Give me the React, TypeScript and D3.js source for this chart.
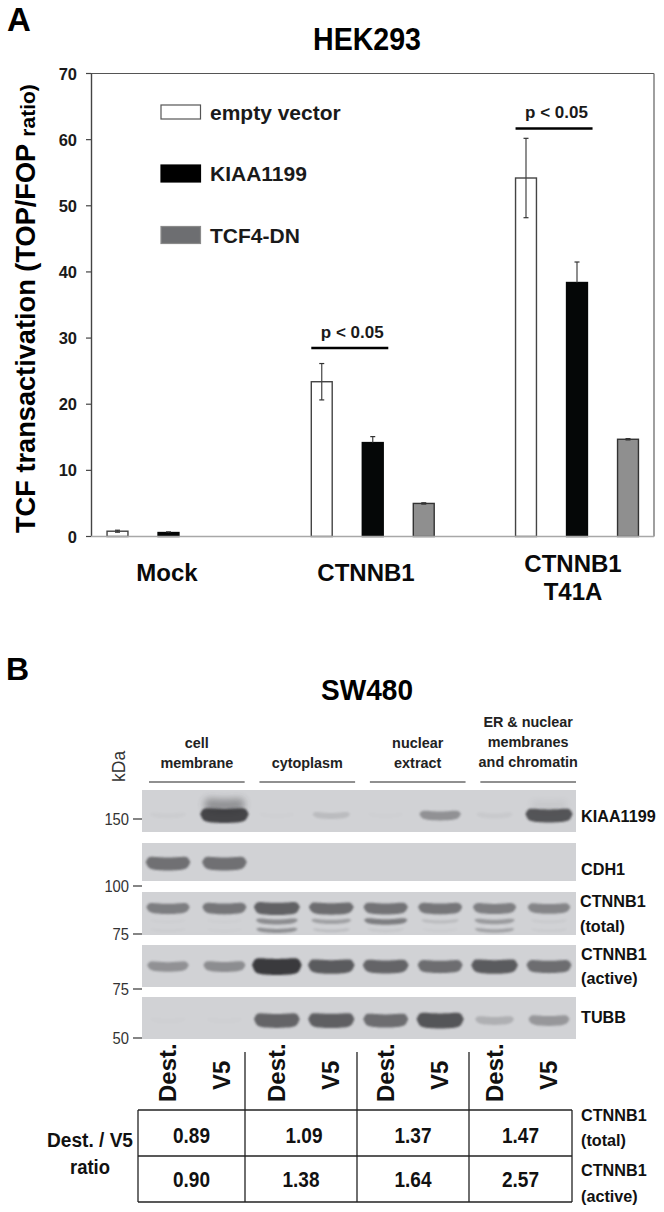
import React from 'react';
import * as d3 from 'd3';

// Panel A values
const groups = ['Mock', 'CTNNB1', 'CTNNB1 T41A'];
const seriesNames = ['empty vector', 'KIAA1199', 'TCF4-DN'];
const emptyVector = [0.8, 23.4, 54.2];
const kiaa1199 = [0.6, 14.2, 38.4];
const tcf4dn = [0, 5.0, 14.7];
const emptyVectorErr = [0.15, 2.75, 6.0];
const kiaa1199Err = [0.1, 0.9, 3.1];
const tcf4dnErr = [0, 0.1, 0.1];

// Panel B values
const fractions = ['cell membrane', 'cytoplasm', 'nuclear extract', 'ER & nuclear membranes and chromatin'];
const lanes = ['Dest.', 'V5', 'Dest.', 'V5', 'Dest.', 'V5', 'Dest.', 'V5'];
const ratioTotal = ['0.89', '1.09', '1.37', '1.47'];
const ratioActive = ['0.90', '1.38', '1.64', '2.57'];

// band darkness per lane, 0 = nothing, 1 = saturated
const kiaaBand = [0.03, 0.92, 0.01, 0.14, 0.01, 0.42, 0.05, 0.82];
const kiaaSmear = [0, 0.42, 0, 0, 0, 0, 0, 0.08];
const cdh1Band = [0.64, 0.64, 0, 0, 0, 0, 0, 0];
const totalUpper = [0.55, 0.6, 0.74, 0.66, 0.62, 0.6, 0.54, 0.5];
const totalMiddle = [0.02, 0.02, 0.45, 0.32, 0.55, 0.14, 0.36, 0.05];
const totalLower = [0.03, 0.02, 0.42, 0.13, 0.06, 0.03, 0.3, 0.04];
const activeBand = [0.42, 0.45, 1, 0.78, 0.72, 0.66, 0.78, 0.66];
const tubbBand = [0.01, 0.01, 0.72, 0.75, 0.66, 0.82, 0.22, 0.38];

const markers = [
  { label: '150', y: 819 },
  { label: '100', y: 886 },
  { label: '75', y: 934 },
  { label: '75', y: 989 },
  { label: '50', y: 1038 },
];

const FONT = '"Liberation Sans", Arial, sans-serif';
const ink = '#1a1a1a';

const yScale = d3.scaleLinear().domain([0, 70]).range([536.5, 73.5]);
const groupX = d3.scalePoint<string>().domain(groups).range([168.5, 577]);
const seriesX = d3.scaleBand<string>().domain(seriesNames).range([-76.5, 76.5]).paddingInner(0.59).paddingOuter(0.295);
const laneX = d3.scalePoint<number>().domain(d3.range(8)).range([168, 549]);
const fractionX = d3.scaleBand<string>().domain(fractions).range([149, 576]).paddingInner(0.134);
const opacity = d3.scaleLinear().domain([0, 1]).range([0, 0.95]);

const seriesValues = [emptyVector, kiaa1199, tcf4dn];
const seriesErrors = [emptyVectorErr, kiaa1199Err, tcf4dnErr];
const seriesFill = ['#ffffff', '#050707', '#8f8f8f'];
const seriesStroke = ['#444', '#050707', '#333'];
const legendFill = ['#ffffff', '#000000', '#6d6e71'];
const legendStroke = ['#555', '#000', '#8a8a8a'];

// crescent shaped band, thin at the ends and sagging a little in the middle
function bandPath(cx: number, cy: number, w: number, h: number, sag: number) {
  const ts = d3.range(-1, 1.001, 0.1);
  const half = (t: number) => (h / 2) * Math.sqrt(1 - Math.pow(Math.abs(t), 8));
  const drop = (t: number) => sag * (1 - t * t) - sag / 2;
  const gen = d3
    .area<number>()
    .x((t) => cx + (t * w) / 2)
    .y0((t) => cy - half(t) + drop(t))
    .y1((t) => cy + half(t) + drop(t))
    .curve(d3.curveBasis);
  return gen(ts) as string;
}

const blots = [
  {
    name: 'KIAA1199', top: 790, height: 42,
    rows: [
      { values: kiaaSmear, cy: 15, thick: 20, blur: 'b3' },
      { values: kiaaBand, cy: 25, thick: 13, blur: 'b1' },
    ],
  },
  { name: 'CDH1', top: 843, height: 38, rows: [{ values: cdh1Band, cy: 20, thick: 15, blur: 'b1' }] },
  {
    name: 'CTNNB1 total', top: 892, height: 43,
    rows: [
      { values: totalUpper, cy: 16, thick: 13, blur: 'b1' },
      { values: totalMiddle, cy: 29, thick: 7, blur: 'b1' },
      { values: totalLower, cy: 38, thick: 6, blur: 'b1' },
    ],
  },
  { name: 'CTNNB1 active', top: 945, height: 42, rows: [{ values: activeBand, cy: 21, thick: 14, blur: 'b1' }] },
  { name: 'TUBB', top: 997, height: 42, rows: [{ values: tubbBand, cy: 23, thick: 15, blur: 'b1' }] },
];

const blotLabels = [
  { text: 'KIAA1199', x: 581, y: 822 },
  { text: 'CDH1', x: 581, y: 875 },
  { text: 'CTNNB1', x: 580, y: 907 },
  { text: '(total)', x: 580, y: 932 },
  { text: 'CTNNB1', x: 581, y: 960 },
  { text: '(active)', x: 581, y: 984 },
  { text: 'TUBB', x: 581, y: 1023 },
  { text: 'CTNNB1', x: 581, y: 1121 },
  { text: '(total)', x: 581, y: 1146 },
  { text: 'CTNNB1', x: 581, y: 1176 },
  { text: '(active)', x: 581, y: 1202 },
];

const headerLines = [
  ['cell', 'membrane'],
  ['cytoplasm'],
  ['nuclear', 'extract'],
  ['ER & nuclear', 'membranes', 'and chromatin'],
];

const tableEdges = [138, 245, 357, 469, 572];
const tableRows = [1110, 1156, 1202];

export default function App() {
  const barW = seriesX.bandwidth();
  return (
    <svg width={664} height={1212} style={{ position: 'absolute', left: 0, top: 0, background: '#fff', fontFamily: FONT }}>
      <defs>
        <filter id="b1" x="-20%" y="-60%" width="140%" height="220%"><feGaussianBlur stdDeviation="1.2" /></filter>
        <filter id="b3" x="-20%" y="-60%" width="140%" height="220%"><feGaussianBlur stdDeviation="3.5" /></filter>
        {blots.map((b, i) => (
          <clipPath id={`clip${i}`} key={i}><rect x={142} y={b.top} width={434} height={b.height} /></clipPath>
        ))}
      </defs>

      {/* panel A */}
      <text x={7} y={31} fontSize={33} fontWeight="bold" fill="#000">A</text>
      <text x={367} y={50} fontSize={31} fontWeight="bold" textAnchor="middle" textLength={108} lengthAdjust="spacingAndGlyphs" fill="#000">HEK293</text>

      <line x1={86} x2={654} y1={yScale(70)} y2={yScale(70)} stroke="#555" strokeWidth={1.2} />
      <line x1={91.5} x2={91.5} y1={yScale(70)} y2={yScale(0)} stroke="#444" strokeWidth={1.4} />
      <line x1={654} x2={654} y1={yScale(70)} y2={yScale(0)} stroke="#777" strokeWidth={1.4} />
      {yScale.ticks(7).map((t) => (
        <g key={t}>
          <line x1={86} x2={91} y1={yScale(t)} y2={yScale(t)} stroke="#444" strokeWidth={1.2} />
          <text x={77} y={yScale(t) + 6} fontSize={16.5} fontWeight="bold" textAnchor="end" fill={ink}>{t}</text>
        </g>
      ))}
      <text transform={`translate(35,533) rotate(-90)`} fontSize={27.2} fontWeight="bold" fill="#000">
        TCF transactivation (TOP/FOP <tspan fontSize={21}>ratio)</tspan>
      </text>

      {groups.map((g, gi) =>
        seriesNames.map((s, si) => {
          const v = seriesValues[si][gi];
          const e = seriesErrors[si][gi];
          if (v === 0) return null;
          const x = (groupX(g) as number) + (seriesX(s) as number);
          const mid = x + barW / 2;
          // the lower half of an error bar cannot be seen on a black bar
          const low = si === 1 ? v : v - e;
          return (
            <g key={g + s}>
              <rect x={x} y={yScale(v)} width={barW} height={yScale(0) - yScale(v)} fill={seriesFill[si]} stroke={seriesStroke[si]} strokeWidth={1.4} />
              <line x1={mid} x2={mid} y1={yScale(v + e)} y2={yScale(low)} stroke="#444" strokeWidth={1.2} />
              <line x1={mid - 2.5} x2={mid + 2.5} y1={yScale(v + e)} y2={yScale(v + e)} stroke="#333" strokeWidth={1.2} />
              {si !== 1 && <line x1={mid - 2.5} x2={mid + 2.5} y1={yScale(low)} y2={yScale(low)} stroke="#333" strokeWidth={1.2} />}
            </g>
          );
        })
      )}
      <line x1={91} x2={654} y1={yScale(0)} y2={yScale(0)} stroke="#a8a8a8" strokeWidth={1.4} />

      {seriesNames.map((s, i) => {
        const legendY = d3.scalePoint<number>().domain([0, 1, 2]).range([112, 235]);
        const cy = legendY(i) as number;
        return (
          <g key={s}>
            <rect x={161} y={cy - (i ? 8.5 : 7)} width={39.5} height={i ? 17 : 14} fill={legendFill[i]} stroke={legendStroke[i]} strokeWidth={1.2} />
            <text x={210} y={cy + 7.5} fontSize={21} fontWeight="bold" fill={ink}>{s}</text>
          </g>
        );
      })}

      {[1, 2].map((gi) => {
        const x0 = (groupX(groups[gi]) as number) + (seriesX(seriesNames[0]) as number);
        const yp = gi === 1 ? 348 : 128.5;
        return (
          <g key={gi}>
            <line x1={x0} x2={x0 + 77} y1={yp} y2={yp} stroke="#000" strokeWidth={2.6} />
            <text x={x0 + 41} y={yp - 10.5} fontSize={17} fontWeight="bold" textAnchor="middle" fill={ink}>p &lt; 0.05</text>
          </g>
        );
      })}

      <g fontSize={24} fontWeight="bold" textAnchor="middle" fill="#0a0a0a">
        <text x={167} y={581}>{groups[0]}</text>
        <text x={366} y={581}>{groups[1]}</text>
        <text x={573} y={572}>CTNNB1</text>
        <text x={573} y={600}>T41A</text>
      </g>

      {/* panel B */}
      <text x={6} y={680} fontSize={32} fontWeight="bold" fill="#000">B</text>
      <text x={367} y={700} fontSize={30} fontWeight="bold" textAnchor="middle" textLength={92} lengthAdjust="spacingAndGlyphs" fill="#000">SW480</text>

      <text transform="translate(125,782) rotate(-90)" fontSize={17.5} fill="#333">kDa</text>
      {markers.map((m, i) => (
        <g key={i}>
          <line x1={133} x2={142} y1={m.y} y2={m.y} stroke="#333" strokeWidth={1.2} />
          <text x={129} y={m.y + 6} fontSize={16.5} textAnchor="end" textLength={m.label.length * 8.2} lengthAdjust="spacingAndGlyphs" fill="#333">{m.label}</text>
        </g>
      ))}

      {fractions.map((f, i) => {
        const x = fractionX(f) as number;
        const lines = headerLines[i];
        const lastY = i === 3 ? 767 : 768;
        return (
          <g key={f}>
            <line x1={x} x2={x + fractionX.bandwidth()} y1={782} y2={782} stroke="#222" strokeWidth={1.2} />
            {lines.map((l, li) => (
              <text key={l} x={x + fractionX.bandwidth() / 2} y={lastY - (lines.length - 1 - li) * 20} fontSize={14.4} fontWeight="bold" textAnchor="middle" fill="#222">{l}</text>
            ))}
          </g>
        );
      })}

      {blots.map((b, i) => (
        <g key={b.name} clipPath={`url(#clip${i})`}>
          <rect x={142} y={b.top} width={434} height={b.height} fill="#d1d2d5" />
          {b.rows.map((r, ri) =>
            r.values.map((v, lane) =>
              v > 0 ? (
                <path
                  key={ri + '-' + lane}
                  d={bandPath((laneX(lane) as number) + (lane === 1 ? 2 : 0), b.top + r.cy, 46 * (0.78 + 0.3 * v), r.thick * (0.35 + 0.8 * v), 2)}
                  fill="#323236"
                  opacity={opacity(v)}
                  filter={`url(#${r.blur})`}
                />
              ) : null
            )
          )}
        </g>
      ))}

      {blotLabels.map((l, i) => (
        <text key={i} x={l.x} y={l.y} fontSize={16.2} fontWeight="bold" fill="#111">{l.text}</text>
      ))}

      {lanes.map((l, i) => (
        <text
          key={i}
          transform={`translate(${(laneX(i) as number) + 8},${l === 'V5' ? 1090 : 1102}) rotate(-90)`}
          fontSize={24}
          fontWeight="bold"
          fill="#111"
        >
          {l}
        </text>
      ))}

      {/* ratio table */}
      {tableRows.map((y) => (
        <line key={y} x1={tableEdges[0]} x2={tableEdges[4]} y1={y} y2={y} stroke="#222" strokeWidth={1.3} />
      ))}
      {tableEdges.map((x, i) => (
        <line key={x} x1={x} x2={x} y1={i === 0 || i === 4 ? tableRows[0] : 1052} y2={tableRows[2]} stroke="#222" strokeWidth={1.3} />
      ))}
      {[ratioTotal, ratioActive].map((row, ri) =>
        row.map((v, ci) => (
          <text
            key={ri + '-' + ci}
            x={(tableEdges[ci] + tableEdges[ci + 1]) / 2 + (ri === 0 && ci === 1 ? 3 : 0)}
            y={ri === 0 ? 1143 : 1187}
            fontSize={21.5}
            fontWeight="bold"
            textAnchor="middle"
            textLength={37}
            lengthAdjust="spacingAndGlyphs"
            fill="#111"
          >
            {v}
          </text>
        ))
      )}
      <text x={90} y={1147} fontSize={20} fontWeight="bold" textAnchor="middle" textLength={86} lengthAdjust="spacingAndGlyphs" fill="#111">Dest. / V5</text>
      <text x={90} y={1174} fontSize={20} fontWeight="bold" textAnchor="middle" textLength={40} lengthAdjust="spacingAndGlyphs" fill="#111">ratio</text>
    </svg>
  );
}
